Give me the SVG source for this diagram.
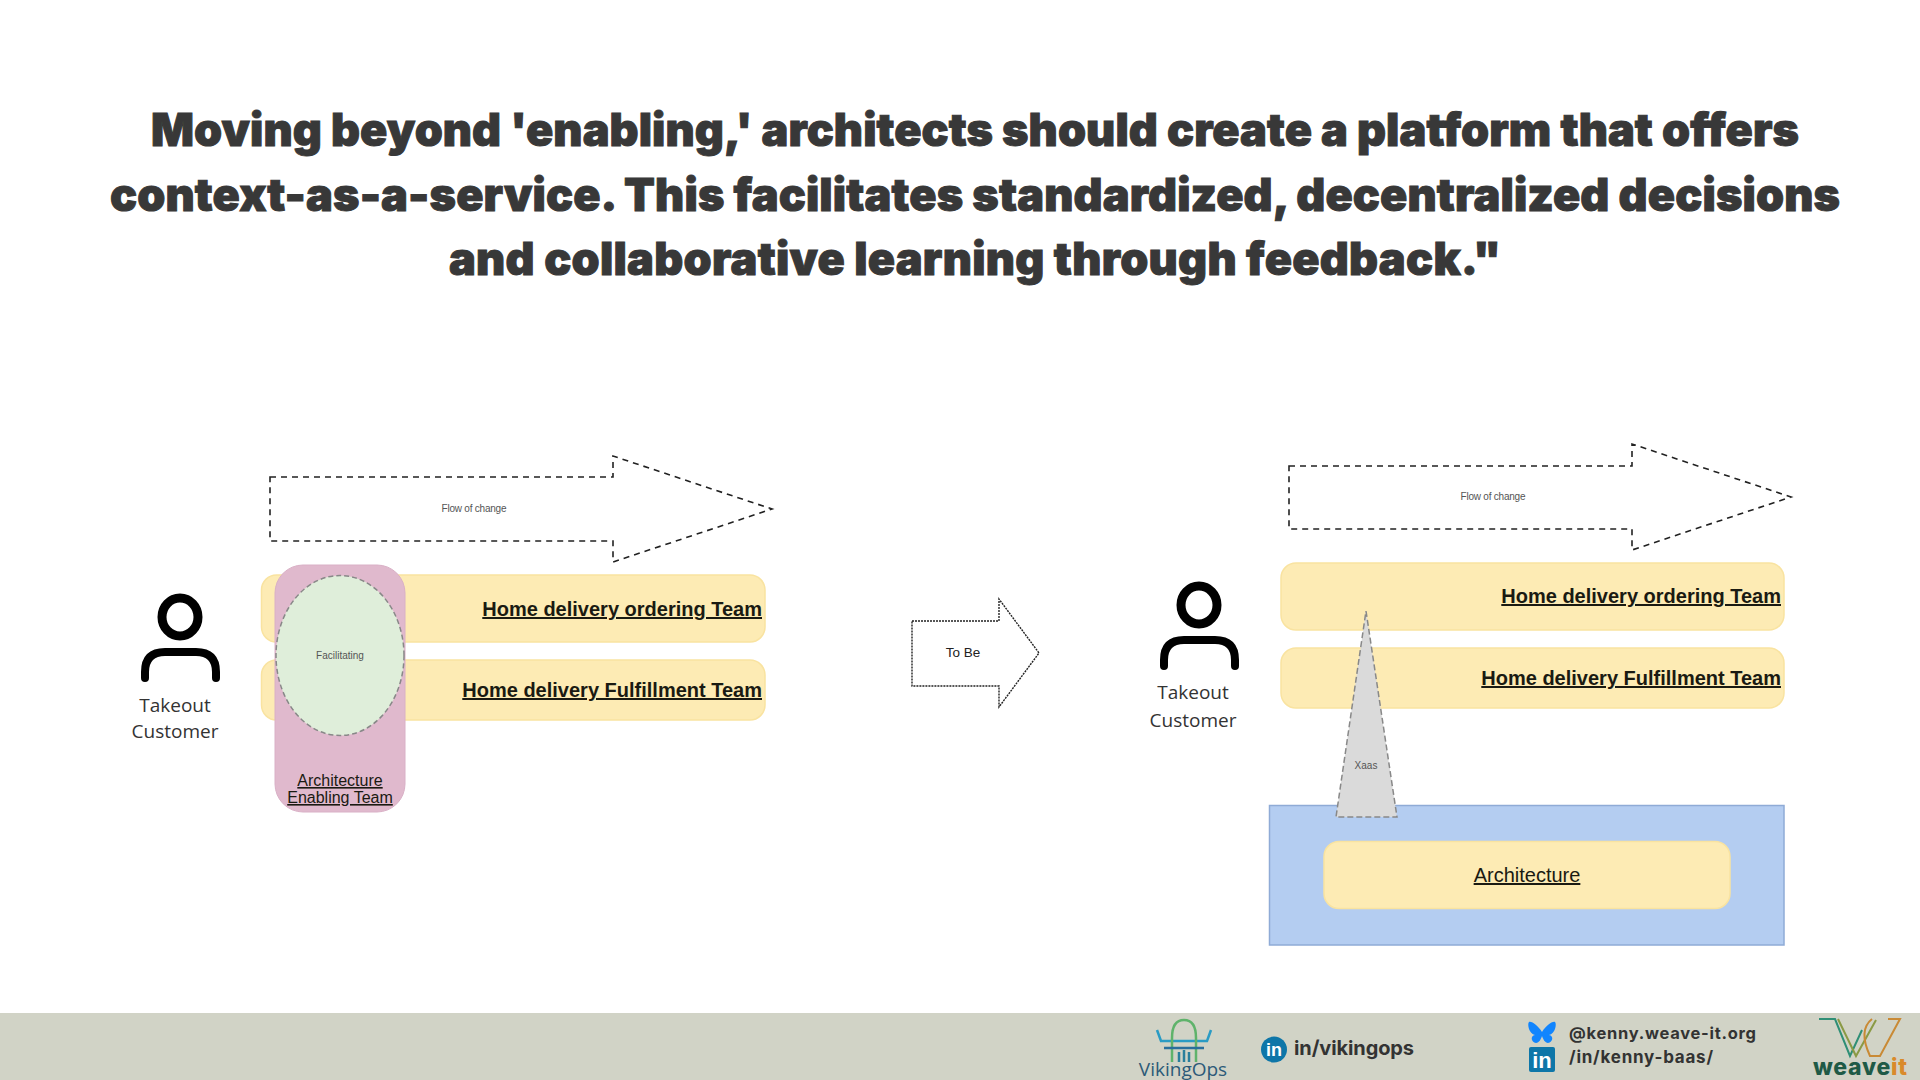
<svg xmlns="http://www.w3.org/2000/svg" width="1920" height="1080" viewBox="0 0 1920 1080">
<style>
.title{font-family:"Inter","Liberation Sans",sans-serif;font-weight:900;font-size:45px;fill:#383838;stroke:#383838;stroke-width:1px}
.team{font-family:"Liberation Sans",Arial,sans-serif;font-weight:700;font-size:20px;fill:#1a1a12;text-decoration:underline;text-anchor:end}
.arch{font-family:"Liberation Sans",Arial,sans-serif;font-size:20px;fill:#1a1a12;text-decoration:underline;text-anchor:middle}
.small{font-family:"Liberation Sans",Arial,sans-serif;font-size:10px;fill:#555;text-anchor:middle}
.cust{font-family:"Open Sans","Noto Sans",sans-serif;font-size:19px;fill:#333;text-anchor:middle}
.bar{fill:#fdebb4;stroke:#f9e3a0;stroke-width:1.5}
.flow{fill:#fff;stroke:#222;stroke-width:1.6;stroke-dasharray:6 5}
.foot{font-family:"Inter","Liberation Sans",sans-serif;font-weight:700;fill:#333}
.p{fill:none;stroke:#000;stroke-linecap:round}
</style>
<rect width="1920" height="1080" fill="#fff"/>
<g id="title">
<text class="title" x="151" y="146" textLength="1648" lengthAdjust="spacing">Moving beyond 'enabling,' architects should create a platform that offers</text>
<text class="title" x="110" y="211" textLength="1730" lengthAdjust="spacing">context-as-a-service. This facilitates standardized, decentralized decisions</text>
<text class="title" x="449" y="275" textLength="1052" lengthAdjust="spacing">and collaborative learning through feedback."</text>
</g>
<g id="as-is-flow">
<path class="flow" d="M270 477H613V456L772 509L613 562V541H270Z"/>
<text class="small" x="474" y="512" textLength="65">Flow of change</text>
</g>
<g id="as-is-ordering-team">
<rect class="bar" x="261.500" y="575" width="503.500" height="67" rx="15"/>
<text class="team" x="762" y="616">Home delivery ordering Team</text>
</g>
<g id="as-is-fulfillment-team">
<rect class="bar" x="261.500" y="660" width="503.500" height="60" rx="15"/>
<text class="team" x="762" y="697">Home delivery Fulfillment Team</text>
</g>
<g id="enabling-team">
<rect x="275" y="565" width="130" height="247" rx="28" fill="#e0b9cd" stroke="#d9b0c6"/>
<text class="arch" style="font-size:16px" x="340" y="786">Architecture </text>
<text class="arch" style="font-size:16px" x="340" y="803">Enabling Team</text>
</g>
<g id="facilitating">
<ellipse cx="340" cy="655.500" rx="64" ry="80" fill="#dfeeda" stroke="#888" stroke-width="1.500" stroke-dasharray="5 3"/>
<text class="small" x="340" y="659">Facilitating</text>
</g>
<g id="as-is-customer">
<ellipse class="p" cx="180" cy="617" rx="18" ry="19" stroke-width="9"/>
<path class="p" d="M145 678V672Q145 652 165 652H196Q216 652 216 672V678" stroke-width="8"/>
<text class="cust" x="175" y="712">Takeout</text>
<text class="cust" x="175" y="738">Customer</text>
</g>
<g id="to-be-arrow">
<path d="M912 621H999V599L1039 653L999 707V686H912Z" fill="#fff" stroke="#222" stroke-width="1.400" stroke-dasharray="2 1"/>
<text class="small" style="font-size:13.500px;fill:#222" x="963" y="657">To Be</text>
</g>
<g id="to-be-flow">
<path class="flow" d="M1289 466H1632V444L1791 497L1632 550V529H1289Z"/>
<text class="small" x="1493" y="500" textLength="65">Flow of change</text>
</g>
<g id="to-be-ordering-team">
<rect class="bar" x="1281" y="563" width="503" height="67" rx="15"/>
<text class="team" x="1781" y="603">Home delivery ordering Team</text>
</g>
<g id="to-be-fulfillment-team">
<rect class="bar" x="1281" y="648" width="503" height="60" rx="15"/>
<text class="team" x="1781" y="685">Home delivery Fulfillment Team</text>
</g>
<g id="platform">
<rect x="1269.500" y="805.500" width="514.500" height="139.500" fill="#b4cdf1" stroke="#8fabd6" stroke-width="1.500"/>
</g>
<g id="architecture">
<rect class="bar" x="1324" y="841.500" width="406" height="67" rx="15"/>
<text class="arch" x="1527" y="882">Architecture</text>
</g>
<g id="xaas">
<path d="M1366 611L1397 817H1336Z" fill="#dadada" stroke="#888" stroke-width="1.500" stroke-dasharray="6 3"/>
<text class="small" x="1366" y="769">Xaas</text>
</g>
<g id="to-be-customer">
<ellipse class="p" cx="1199" cy="605" rx="18" ry="19" stroke-width="9"/>
<path class="p" d="M1164 666V660Q1164 640 1184 640H1215Q1235 640 1235 660V666" stroke-width="8"/>
<text class="cust" x="1193" y="699">Takeout</text>
<text class="cust" x="1193" y="727">Customer</text>
</g>
<g id="footer">
<rect y="1013" width="1920" height="67" fill="#d1d3c6"/>
<g id="vikingops-logo" fill="none" stroke-width="2.500">
<path d="M1157 1030L1161 1041H1207L1211 1030" stroke="#2a9bc4"/>
<path d="M1172 1062V1038Q1172 1020 1184 1020Q1196 1020 1196 1038V1062" stroke="#5fb36b"/>
<path d="M1164 1048H1204" stroke="#2a6f9c"/>
<path d="M1179 1062V1052M1184 1062V1050M1189 1062V1052" stroke="#2a7f9c"/>
</g>
<text x="1183" y="1076" text-anchor="middle" font-family="Open Sans,Noto Sans,sans-serif" font-size="19" fill="#2c5a78">VikingOps</text>
<g id="linkedin-vikingops">
<circle cx="1274" cy="1049.500" r="13" fill="#0e76a8"/>
<text x="1274" y="1056" text-anchor="middle" font-family="Liberation Sans,sans-serif" font-weight="700" font-size="18" fill="#fff">in</text>
</g>
<text class="foot" x="1294" y="1055" font-size="20" textLength="120">in/vikingops</text>
<path id="bluesky" d="M1542 1032C1538 1026 1532 1021 1529 1022C1527 1024 1529 1034 1535 1035C1530 1036 1531 1042 1536 1043C1539 1043 1541 1039 1542 1036C1543 1039 1545 1043 1548 1043C1553 1042 1554 1036 1549 1035C1555 1034 1557 1024 1555 1022C1552 1021 1546 1026 1542 1032Z" fill="#1185fe"/>
<g id="linkedin-kenny">
<rect x="1529" y="1047" width="26" height="25" rx="2" fill="#0e76a8"/>
<text x="1542" y="1068" text-anchor="middle" font-family="Liberation Sans,sans-serif" font-weight="700" font-size="22" fill="#fff">in</text>
</g>
<text class="foot" x="1569" y="1039" font-size="16.500" textLength="187">@kenny.weave-it.org</text>
<text class="foot" x="1569" y="1063" font-size="17" font-weight="600" textLength="144">/in/kenny-baas/</text>
<g id="weaveit-logo" fill="none" stroke-width="2">
<path d="M1819 1019H1835L1850 1056L1862 1030" stroke="#2f8f76"/>
<path d="M1838 1019L1856 1056L1876 1020" stroke="#8a9a45"/>
<path d="M1872 1019Q1858 1030 1870 1056H1880L1900 1019H1888" stroke="#c98a35"/>
</g>
<text x="1813" y="1075" font-family="Inter,Liberation Sans,sans-serif" font-weight="800" font-size="23" textLength="94"><tspan fill="#1f5a46">weave</tspan><tspan fill="#d98a2b">it</tspan></text>
</g>
</svg>
